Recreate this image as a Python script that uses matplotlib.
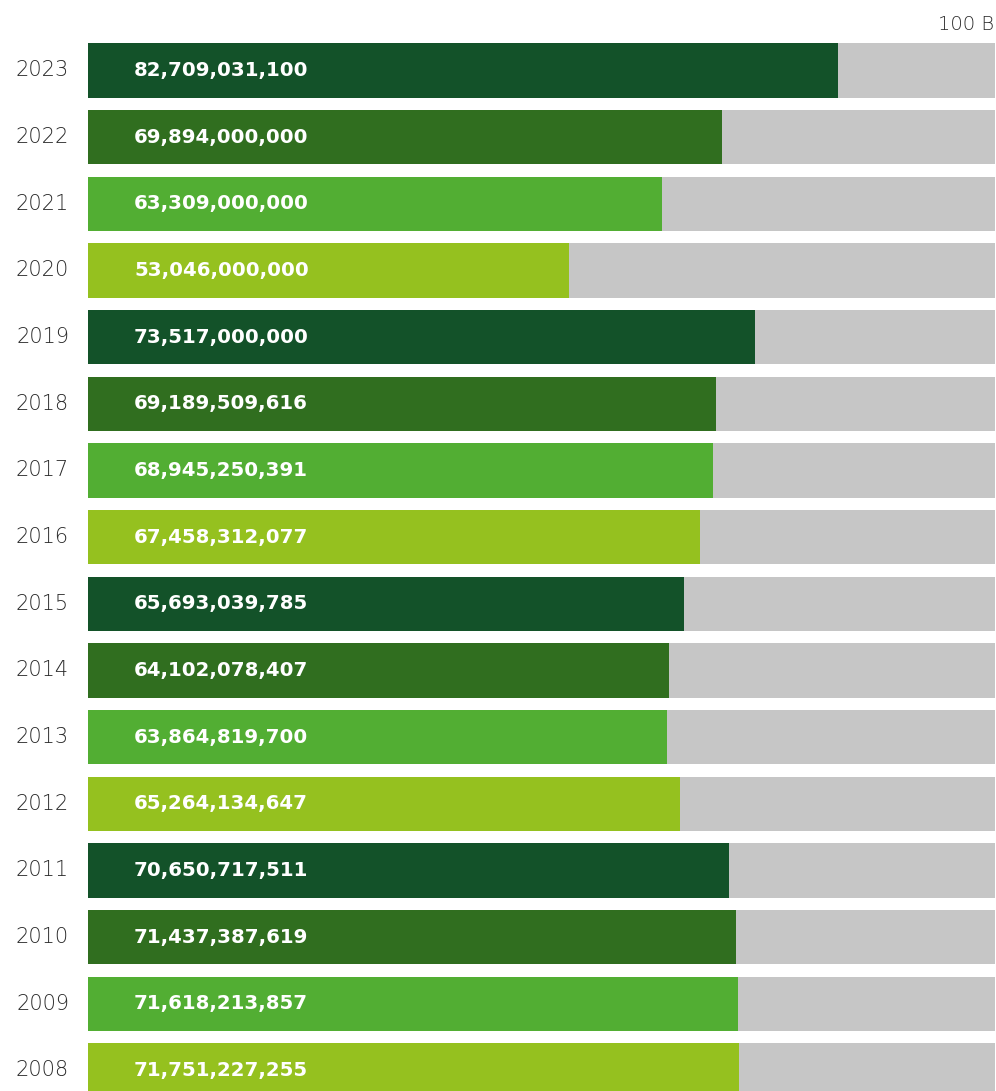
import matplotlib
matplotlib.use("Agg")
import matplotlib.pyplot as plt

years = ["2023", "2022", "2021", "2020", "2019", "2018", "2017", "2016",
         "2015", "2014", "2013", "2012", "2011", "2010", "2009", "2008"]
values = [82709031100, 69894000000, 63309000000, 53046000000, 73517000000,
          69189509616, 68945250391, 67458312077, 65693039785, 64102078407,
          63864819700, 65264134647, 70650717511, 71437387619, 71618213857,
          71751227255]
max_value = 100e9
max_label = "100 B"
palette = ["#135229", "#306E1F", "#52AE33", "#95C11F"]
bg_color = "#C6C6C6"

W, H = 996, 1091
fig = plt.figure(figsize=(W / 100, H / 100), dpi=100)
left_px, right_px = 88, 995
ax = fig.add_axes([left_px / W, 0, (right_px - left_px) / W, 1])

pitch = 1000 / 15
c0 = 70.5
ax.set_ylim((H - c0) / pitch, -c0 / pitch)
ax.set_xlim(0, max_value)
bar_h = 54.5 / pitch

idx = list(range(len(years)))
ax.barh(idx, [max_value] * len(years), height=bar_h, color=bg_color, linewidth=0)
ax.barh(idx, values, height=bar_h,
        color=[palette[i % 4] for i in idx], linewidth=0)

for i, (y, v) in enumerate(zip(years, values)):
    ax.text(5.07e9, i, f"{v:,}", color="white", fontsize=14.2, fontweight="bold",
            family="DejaVu Sans", va="center", ha="left")
    ax.text(-19 / (right_px - left_px) * max_value, i, y, color="#2a2a2a",
            fontsize=15, fontweight="light", family="DejaVu Sans",
            va="center", ha="right")

fig.text(994 / W, 1 - 24 / H, max_label, color="#2a2a2a", fontsize=14,
         fontweight="light", family="DejaVu Sans", va="center", ha="right")

ax.axis("off")
fig.savefig("out.png", dpi=100)
